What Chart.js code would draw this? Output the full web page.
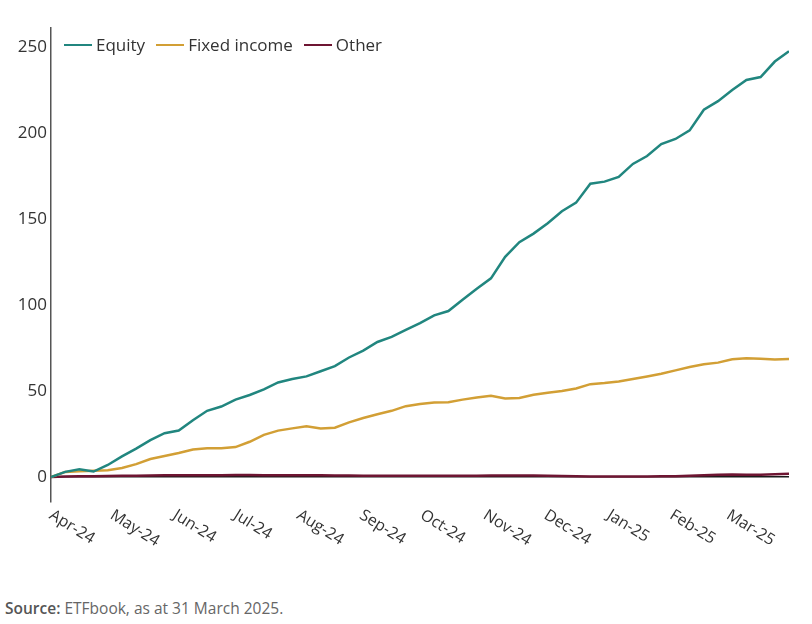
<!DOCTYPE html>
<html>
<head>
<meta charset="utf-8">
<script src="https://cdn.jsdelivr.net/npm/chart.js@4"></script>
<style>
  body { margin: 0; background: #fff; font-family: "Open Sans", sans-serif; }
  #wrap { position: absolute; left: 0; top: 0; width: 812px; height: 580px; }
  #legend { position: absolute; left: 64px; top: 34px; display: flex; font-size: 17px; color: #333; line-height: 22px; }
  #legend .item { display: flex; align-items: center; margin-right: 11px; }
  #legend .mark { width: 28px; height: 2.5px; margin-right: 4px; }
  #source { position: absolute; left: 5px; top: 597px; margin: 0; font-size: 15.5px; color: #666; }
  #source b { color: #555; font-weight: 600; }
</style>
</head>
<body>
<div id="wrap"><canvas id="flowsChart"></canvas></div>
<div id="legend"></div>
<p id="source"><b>Source:</b> ETFbook, as at 31 March 2025.</p>
<script>
// days since 1 Apr 2024, one point a week
const weekDays = [0, 7, 14, 21, 28, 35, 42, 49, 56, 63, 70, 77, 84, 91, 98, 105, 112, 119, 126, 133,
  140, 147, 154, 161, 168, 175, 182, 189, 196, 203, 210, 217, 224, 231, 238, 245, 252, 259, 266, 273,
  280, 287, 294, 301, 308, 315, 322, 329, 336, 343, 350, 357, 364];

const equity = [0, 3, 4.5, 3.2, 7, 12, 16.5, 21.5, 25.5, 27, 33, 38.5, 41, 45, 47.7, 51, 55, 57, 58.5, 61.5,
  64.5, 69.5, 73.5, 78.5, 81.5, 85.5, 89.5, 94, 96.5, 103, 109.5, 115.5, 128, 136.5, 141.5, 147.5, 154.5, 159.5, 170.5, 171.7,
  174.5, 182, 186.6, 193.5, 196.5, 201.5, 213.5, 218.5, 225, 230.8, 232.5, 241.5, 247.5];

const fixedIncome = [0, 3, 3.3, 3.7, 4, 5.3, 7.5, 10.5, 12.2, 14, 16, 16.7, 16.8, 17.4, 20.5, 24.5, 27, 28.3, 29.5, 28.2,
  28.7, 31.8, 34.3, 36.5, 38.5, 41.2, 42.5, 43.3, 43.5, 45, 46.3, 47.2, 45.7, 46, 47.8, 49, 50, 51.5, 54, 54.7,
  55.6, 57, 58.5, 60, 62, 64, 65.5, 66.5, 68.5, 69, 68.8, 68.3, 68.6];

const other = [0, 0.3, 0.4, 0.5, 0.6, 0.7, 0.8, 0.9, 1, 1, 1.1, 1.1, 1.1, 1.2, 1.2, 1.1, 1.1, 1, 1, 1,
  0.9, 0.9, 0.8, 0.8, 0.7, 0.7, 0.7, 0.8, 0.8, 0.8, 0.8, 0.9, 0.9, 0.9, 0.9, 0.8, 0.6, 0.4, 0.3, 0.3,
  0.3, 0.3, 0.3, 0.4, 0.5, 0.8, 1.1, 1.3, 1.5, 1.4, 1.3, 1.6, 1.9];

const monthStarts = [0, 30, 61, 91, 122, 153, 183, 214, 244, 275, 306, 334];
const monthLabels = ['Apr-24', 'May-24', 'Jun-24', 'Jul-24', 'Aug-24', 'Sep-24', 'Oct-24', 'Nov-24', 'Dec-24', 'Jan-25', 'Feb-25', 'Mar-25'];
const yTicks = [0, 50, 100, 150, 200, 250];

const toPoints = vals => weekDays.map((d, i) => ({ x: d, y: vals[i] }));

// slanted month labels, text running down to the right from each tick
const monthLabelPlugin = {
  id: 'monthLabels',
  afterDraw(chart) {
    const { ctx, chartArea } = chart;
    const x = chart.scales.x;
    ctx.save();
    ctx.font = '16px "Open Sans"';
    ctx.fillStyle = '#333';
    ctx.textAlign = 'left';
    ctx.textBaseline = 'top';
    monthStarts.forEach((d, i) => {
      ctx.save();
      ctx.translate(x.getPixelForValue(d) + 4, chartArea.bottom + 5);
      ctx.rotate(32 * Math.PI / 180);
      ctx.fillText(monthLabels[i], 0, 0);
      ctx.restore();
    });
    ctx.restore();
  }
};

const flows = document.getElementById('flowsChart');

const chart = new Chart(flows, {
  type: 'line',
  data: {
    datasets: [
      { label: 'Equity', data: toPoints(equity), borderColor: '#21867f', borderWidth: 2.5 },
      { label: 'Fixed income', data: toPoints(fixedIncome), borderColor: '#d29f35', borderWidth: 2.5 },
      { label: 'Other', data: toPoints(other), borderColor: '#6e1532', borderWidth: 2.5 }
    ]
  },
  options: {
    responsive: true,
    maintainAspectRatio: false,
    animation: false,
    layout: { padding: { left: 0, top: 28, right: 23, bottom: 0 } },
    elements: {
      point: { radius: 0 },
      line: { tension: 0 }
    },
    plugins: {
      legend: { display: false },
      tooltip: { enabled: false }
    },
    scales: {
      x: {
        type: 'linear',
        min: 0,
        max: 364,
        grid: { display: false },
        border: { display: false },
        ticks: { display: false },
        afterFit(s) { s.height = 78; }
      },
      y: {
        min: -14.5,
        max: 261,
        afterBuildTicks(s) { s.ticks = yTicks.map(v => ({ value: v })); },
        afterFit(s) { s.width = 51; },
        grid: {
          drawTicks: false,
          lineWidth: 1.5,
          color: c => (c.tick && c.tick.value === 0) ? '#1b1b1b' : 'rgba(0,0,0,0)'
        },
        border: { display: true, color: '#555', width: 1.5 },
        ticks: { padding: 4, color: '#333', font: { family: 'Open Sans', size: 17 } }
      }
    }
  },
  plugins: [monthLabelPlugin]
});

// legend as html, built from the chart's datasets
const legendBox = document.getElementById('legend');
chart.data.datasets.forEach(ds => {
  const item = document.createElement('span');
  item.className = 'item';
  const mark = document.createElement('span');
  mark.className = 'mark';
  mark.style.background = ds.borderColor;
  item.appendChild(mark);
  item.appendChild(document.createTextNode(ds.label));
  legendBox.appendChild(item);
});
</script>
</body>
</html>
